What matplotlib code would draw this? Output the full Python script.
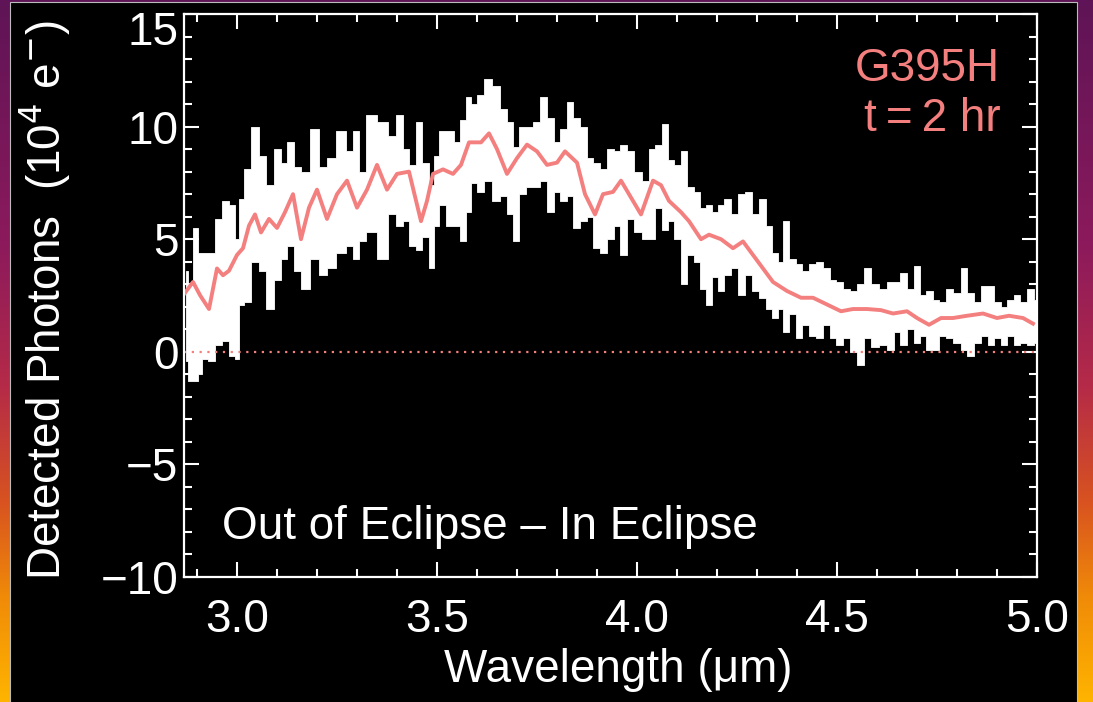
import numpy as np
import matplotlib.pyplot as plt
import matplotlib.transforms as mtransforms
from matplotlib.colors import LinearSegmentedColormap
from matplotlib.patches import Rectangle
from matplotlib.ticker import MultipleLocator

plt.rcParams['font.family'] = ['Liberation Sans', 'DejaVu Sans']

# noisy spectrum: wavelength (um), upper and lower edge of the white band (1e4 e-)
wave = [2.873, 2.883, 2.895, 2.908, 2.918, 2.935, 2.953, 2.970, 2.988, 3.000,
        3.010, 3.025, 3.045, 3.063, 3.083, 3.100, 3.118, 3.133, 3.150, 3.170,
        3.193, 3.215, 3.235, 3.260, 3.283, 3.298, 3.313, 3.333, 3.368, 3.385,
        3.408, 3.420, 3.438, 3.455, 3.470, 3.488, 3.498, 3.513, 3.533, 3.550,
        3.565, 3.578, 3.593, 3.608, 3.628, 3.648, 3.665, 3.683, 3.698, 3.713,
        3.730, 3.750, 3.765, 3.783, 3.800, 3.815, 3.833, 3.848, 3.865, 3.883,
        3.898, 3.918, 3.933, 3.950, 3.965, 3.983, 4.003, 4.023, 4.038, 4.053,
        4.070, 4.085, 4.100, 4.118, 4.133, 4.150, 4.165, 4.180, 4.195, 4.208,
        4.225, 4.243, 4.263, 4.278, 4.295, 4.313, 4.330, 4.345, 4.358, 4.373,
        4.388, 4.405, 4.420, 4.438, 4.455, 4.473, 4.490, 4.505, 4.523, 4.543,
        4.558, 4.575, 4.595, 4.615, 4.635, 4.650, 4.665, 4.685, 4.700, 4.713,
        4.730, 4.748, 4.763, 4.780, 4.800, 4.818, 4.833, 4.850, 4.868, 4.885,
        4.900, 4.918, 4.933, 4.950, 4.965, 4.985, 4.998]
upper = [3.6, 3.0, 5.5, 4.4, 4.4, 4.4, 5.9, 6.7, 6.5, 5.0,
         6.8, 8.1, 10.0, 8.7, 7.4, 9.0, 8.4, 9.3, 8.2, 8.0,
         9.9, 8.2, 8.6, 9.8, 8.9, 9.8, 8.0, 10.5, 10.2, 9.6,
         10.5, 9.0, 8.3, 10.2, 8.4, 7.4, 8.7, 9.8, 9.8, 9.3,
         10.3, 11.3, 11.0, 11.4, 12.1, 11.8, 10.8, 10.2, 9.1, 10.0,
         10.0, 10.2, 11.3, 10.4, 9.3, 9.9, 11.1, 10.4, 10.0, 8.6,
         8.4, 8.1, 9.0, 8.9, 9.2, 8.9, 8.0, 7.6, 9.0, 9.2,
         10.1, 8.5, 8.3, 8.9, 7.3, 7.1, 6.4, 6.5, 6.2, 6.5,
         6.8, 6.1, 7.0, 7.1, 6.1, 6.8, 5.6, 4.4, 4.0, 5.8,
         4.1, 3.9, 3.6, 3.9, 4.0, 3.7, 3.2, 3.1, 2.8, 2.7,
         3.0, 3.7, 3.0, 2.8, 3.1, 3.1, 3.5, 2.8, 3.8, 2.5,
         2.7, 2.3, 2.2, 2.8, 2.6, 3.7, 2.6, 2.2, 2.9, 2.9,
         2.2, 2.0, 2.3, 2.5, 2.2, 2.8, 2.3]
lower = [-0.4, -1.3, -1.3, -1.0, -0.3, -0.4, 0.3, 0.5, -0.2, -0.3,
         2.1, 2.2, 4.0, 3.6, 1.9, 3.2, 4.1, 4.7, 3.6, 2.8,
         4.1, 3.4, 3.7, 4.4, 4.7, 4.1, 4.9, 5.3, 4.1, 6.1,
         5.6, 5.8, 4.7, 4.5, 5.1, 3.7, 5.6, 6.5, 5.6, 5.6,
         4.9, 6.2, 7.5, 7.1, 7.6, 6.7, 6.9, 6.1, 4.9, 7.0,
         7.3, 7.3, 7.6, 6.2, 7.1, 6.7, 6.9, 5.5, 5.8, 6.0,
         4.6, 4.4, 5.0, 5.6, 4.3, 5.9, 5.3, 5.0, 5.0, 6.4,
         5.4, 5.8, 5.0, 3.0, 4.3, 4.0, 2.8, 2.1, 3.3, 2.7,
         3.4, 3.7, 2.5, 3.4, 2.7, 2.4, 1.9, 1.5, 1.9, 0.9,
         1.7, 0.6, 1.2, 0.7, 0.6, 1.2, 0.6, 0.3, 0.6, 0.0,
         -0.6, 0.6, 0.2, 0.3, 0.1, 0.9, 0.3, 1.0, 0.4, 0.7,
         0.1, 0.1, 0.7, 0.6, 0.4, 0.1, -0.2, 0.4, 0.7, 0.3,
         0.6, 0.3, 0.7, 0.3, 0.4, 0.3, 0.4]

# smoothed spectrum (red)
smooth_wave = [2.865, 2.89, 2.908, 2.93, 2.95, 2.965, 2.98, 3.0, 3.015, 3.03,
               3.045, 3.06, 3.08, 3.10, 3.12, 3.14, 3.16, 3.18, 3.20, 3.225,
               3.25, 3.275, 3.30, 3.325, 3.35, 3.375, 3.40, 3.43, 3.46, 3.475,
               3.49, 3.515, 3.54, 3.56, 3.58, 3.61, 3.63, 3.65, 3.675, 3.70,
               3.725, 3.75, 3.775, 3.80, 3.82, 3.85, 3.87, 3.895, 3.915, 3.94,
               3.96, 3.98, 4.01, 4.04, 4.06, 4.08, 4.11, 4.13, 4.16, 4.18,
               4.21, 4.24, 4.265, 4.29, 4.315, 4.34, 4.375, 4.41, 4.44, 4.475,
               4.51, 4.54, 4.575, 4.61, 4.64, 4.675, 4.70, 4.73, 4.76, 4.79,
               4.825, 4.865, 4.90, 4.93, 4.965, 4.99]
smooth_flux = [2.5, 3.1, 2.5, 1.9, 3.7, 3.4, 3.6, 4.3, 4.6, 5.6,
               6.1, 5.3, 5.9, 5.5, 6.2, 7.0, 5.0, 6.4, 7.2, 5.9,
               7.0, 7.6, 6.4, 7.2, 8.3, 7.2, 7.9, 8.0, 5.8, 6.7,
               7.9, 8.1, 7.9, 8.3, 9.3, 9.3, 9.7, 9.0, 7.9, 8.6,
               9.2, 8.9, 8.3, 8.4, 8.9, 8.4, 7.0, 6.1, 7.0, 7.1,
               7.6, 7.0, 6.1, 7.6, 7.4, 6.7, 6.2, 5.8, 5.0, 5.2,
               5.0, 4.6, 4.9, 4.3, 3.7, 3.1, 2.7, 2.4, 2.4, 2.1,
               1.8, 1.9, 1.9, 1.85, 1.7, 1.8, 1.5, 1.2, 1.5, 1.5,
               1.6, 1.7, 1.5, 1.6, 1.5, 1.25]

y_ticks = [-10, -5, 0, 5, 10, 15]
y_ticklabels = ['\u221210', '\u22125', '0', '5', '10', '15']

salmon = '#f47f7f'

fig = plt.figure(figsize=(10.93, 7.02), dpi=100)
fig.patch.set_facecolor('black')

# gradient frame behind the black panel
bg = fig.add_axes([0, 0, 1, 1], zorder=-10)
grad_cmap = LinearSegmentedColormap.from_list(
    'frame', [(0.0, '#5e1456'), (0.35, '#8c1a5c'), (0.55, '#b52a48'),
              (0.72, '#d9541f'), (0.85, '#f08a08'), (1.0, '#ffb400')])
bg.imshow(np.linspace(0, 1, 256).reshape(-1, 1), aspect='auto', cmap=grad_cmap,
          extent=[0, 1, 0, 1], origin='upper')
bg.add_patch(Rectangle((10 / 1093, -0.01), 1067 / 1093, 1.007, facecolor='black',
                       edgecolor='#bbbbbb', linewidth=0.8))
bg.set_xlim(0, 1)
bg.set_ylim(0, 1)
bg.axis('off')

ax = fig.add_axes([184 / 1093, 125 / 702, 853 / 1093, 563 / 702])
ax.set_facecolor('black')

ax.fill_between(wave, lower, upper, step='mid', color='white', linewidth=0.6,
                edgecolor='white')
ax.plot(smooth_wave, smooth_flux, color=salmon, lw=2.8)
ax.axhline(0, color=salmon, lw=1.6, ls=(0, (1, 2.5)))

ax.set_xlim(2.8675, 5.0)
ax.set_ylim(-10, 15)
ax.xaxis.set_major_locator(MultipleLocator(0.5))
ax.xaxis.set_minor_locator(MultipleLocator(0.1))
ax.yaxis.set_minor_locator(MultipleLocator(1))
ax.set_yticks(y_ticks)
ax.set_yticklabels(y_ticklabels)

for s in ax.spines.values():
    s.set_color('white')
    s.set_linewidth(1.6)
ax.tick_params(which='both', direction='in', colors='white', top=True, right=True,
               width=1.5)
ax.tick_params(which='major', length=11, labelsize=33)
ax.tick_params(which='minor', length=6)
ax.tick_params(axis='x', which='major', pad=15)
ax.tick_params(axis='y', which='major', pad=4)

# keep the top "15" label inside the picture
fig.canvas.draw()
top_label = ax.get_yticklabels()[-1]
top_label.set_transform(top_label.get_transform() +
                        mtransforms.ScaledTranslation(0, -10 / 72, fig.dpi_scale_trans))

fig.text(618 / 1093, 1 - 670 / 702, 'Wavelength (\u03bcm)', color='white',
         fontsize=33, ha='center', va='center')
fig.text(45 / 1093, 1 - 300 / 702, 'Detected Photons  (10$^4$ e$^{-}$)',
         color='white', fontsize=33, rotation=90, ha='center', va='center')

ax.text(0.957, 0.902, 'G395H', transform=ax.transAxes, color=salmon,
        fontsize=33, ha='right', va='center')
ax.text(0.957, 0.813, 't\u2009=\u20092 hr', transform=ax.transAxes, color=salmon,
        fontsize=33, ha='right', va='center')
ax.text(0.045, 0.089, 'Out of Eclipse \u2013 In Eclipse', transform=ax.transAxes,
        color='white', fontsize=33, ha='left', va='center')

fig.savefig('out.png', dpi=100, facecolor=fig.get_facecolor())
